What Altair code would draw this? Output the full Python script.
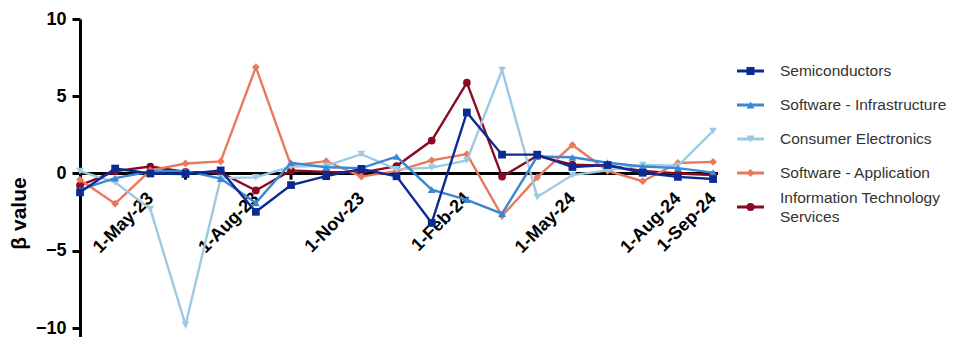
import altair as alt
import pandas as pd

months = ["1-Mar-23", "1-Apr-23", "1-May-23", "1-Jun-23", "1-Jul-23", "1-Aug-23",
          "1-Sep-23", "1-Oct-23", "1-Nov-23", "1-Dec-23", "1-Jan-24", "1-Feb-24",
          "1-Mar-24", "1-Apr-24", "1-May-24", "1-Jun-24", "1-Jul-24", "1-Aug-24",
          "1-Sep-24"]
label_months = [2, 5, 8, 11, 14, 17, 18]
minor_ticks = [3, 6]

series_names = ["Semiconductors", "Software - Infrastructure", "Consumer Electronics",
                "Software - Application", "Information Technology Services"]
legend_labels = ["Semiconductors", "Software - Infrastructure", "Consumer Electronics",
                 "Software - Application", "Information Technology\nServices"]
legend_lines = [1, 1, 1, 1, 2]
colors = ["#0b2a92", "#3c86d6", "#9dc9e2", "#e8795b", "#8a0a22"]
shapes = ["square", "triangle-up", "triangle-down", "diamond", "circle"]

semiconductors = [-1.22, 0.32, 0.0, -0.03, 0.2, -2.48, -0.75, -0.17, 0.3, -0.18,
                  -3.2, 3.95, 1.22, 1.22, 0.42, 0.55, 0.05, -0.22, -0.36]
software_infra = [-1.05, -0.3, 0.13, 0.17, -0.33, -1.9, 0.7, 0.4, 0.35, 1.1,
                  -1.05, -1.7, -2.6, 1.1, 1.05, 0.7, 0.45, 0.35, 0.06]
consumer_elec = [0.15, -0.57, -2.3, -9.8, -0.3, -0.25, 0.45, 0.5, 1.25, 0.27,
                 0.38, 0.85, 6.7, -1.52, -0.1, 0.2, 0.55, 0.5, 2.75]
software_app = [-0.4, -1.95, 0.2, 0.65, 0.78, 6.88, 0.5, 0.8, -0.2, 0.15,
                0.85, 1.25, -2.75, -0.25, 1.85, 0.17, -0.5, 0.68, 0.75]
it_services = [-0.77, 0.15, 0.45, 0.1, 0.05, -1.1, 0.2, 0.1, 0.06, 0.48,
               2.13, 5.88, -0.2, 1.15, 0.57, 0.5, 0.17, 0.0, -0.1]

all_values = [semiconductors, software_infra, consumer_elec, software_app, it_services]

rows = []
for name, vals in zip(series_names, all_values):
    for i, v in enumerate(vals):
        rows.append({"series": name, "idx": i, "value": v})
df = pd.DataFrame(rows)

W = 638
H = 318
YMAX = 10
PX_PER_UNIT = 15.45
YMIN = YMAX - H / PX_PER_UNIT
zero_px = YMAX * PX_PER_UNIT
FONT = "Liberation Sans"

label_expr = "[" + ",".join("'" + m + "'" for m in months) + "][datum.value]"

x_scale = alt.Scale(domain=[0, 18.14], nice=False, zero=False)
x_axis = alt.Axis(
    values=label_months, labelExpr=label_expr, labelAngle=-45,
    labelAlign="right", labelBaseline="middle", labelFont=FONT,
    labelFontSize=18, labelFontWeight="bold", labelColor="black",
    ticks=False, domain=False, grid=False, title=None,
    offset=-(H - zero_px), labelPadding=22, labelOverlap=False,
    labelBound=False, labelFlush=False,
)
y_scale = alt.Scale(domain=[YMIN, YMAX], nice=False, zero=False)
y_axis = alt.Axis(
    values=[-10, -5, 0, 5, 10], title="β value", titleFont=FONT,
    titleFontSize=21, titleFontWeight="bold", titleColor="black",
    titleX=-61, titleY=194, titleAngle=-90, titleAlign="center",
    titleBaseline="middle",
    labelFont=FONT, labelFontSize=18, labelFontWeight="bold",
    labelColor="black", labelPadding=6, domainColor="black", domainWidth=3,
    tickColor="black", tickWidth=3, tickSize=8, grid=False,
)
x_enc = alt.X("idx:Q", scale=x_scale, axis=x_axis)
y_enc = alt.Y("value:Q", scale=y_scale, axis=y_axis)

zero_line = alt.Chart(pd.DataFrame({"value": [0]})).mark_rule(
    color="black", strokeWidth=3).encode(y=y_enc)
ticks = alt.Chart(pd.DataFrame({"idx": minor_ticks})).mark_rule(
    color="black", strokeWidth=3).encode(x=x_enc, y=alt.datum(0), y2=alt.datum(-0.4))

layers = [zero_line, ticks]
for name, col, shp in reversed(list(zip(series_names, colors, shapes))):
    base = alt.Chart(df).transform_filter(alt.datum.series == name)
    layers.append(base.mark_line(color=col, strokeWidth=2.4).encode(x=x_enc, y=y_enc))
    layers.append(base.mark_point(color=col, filled=True, opacity=1, shape=shp,
                                  size=60).encode(x=x_enc, y=y_enc))

main = alt.layer(*layers)

# legend drawn as its own layer with an independent point scale
leg_df = pd.DataFrame({"series": series_names, "label": legend_labels,
                       "lines": legend_lines, "color": colors, "shape": shapes})
ly = alt.Y("series:N", scale=alt.Scale(type="point", domain=series_names,
                                       range=[52, 188], padding=0), axis=None)
leg_rule = alt.Chart(leg_df).mark_rule(strokeWidth=3).encode(
    x=alt.value(657), x2=alt.value(684), y=ly, color=alt.Color("color:N", scale=None))
leg_pt = alt.Chart(leg_df).mark_point(filled=True, opacity=1, size=65).encode(
    x=alt.value(670.5), y=ly, color=alt.Color("color:N", scale=None),
    shape=alt.Shape("shape:N", scale=None))
txt_style = dict(align="left", baseline="middle", fontSize=15.5, font=FONT,
                 color="#333333", lineBreak="\n", lineHeight=19)
leg_txt1 = alt.Chart(leg_df).transform_filter(alt.datum.lines == 1).mark_text(
    **txt_style).encode(x=alt.value(700), y=ly, text="label:N")
leg_txt2 = alt.Chart(leg_df).transform_filter(alt.datum.lines == 2).mark_text(
    dy=-9.5, **txt_style).encode(x=alt.value(700), y=ly, text="label:N")
legend = alt.layer(leg_rule, leg_pt, leg_txt1, leg_txt2)

chart = alt.layer(main, legend).resolve_scale(y="independent").properties(
    width=W, height=H,
    autosize=alt.AutoSizeParams(type="none"),
    padding={"left": 72, "top": 11, "right": 939 - 72 - W, "bottom": 0},
).configure_view(stroke=None)

chart.save("out.html", embed_options={"renderer": "svg", "actions": False})
